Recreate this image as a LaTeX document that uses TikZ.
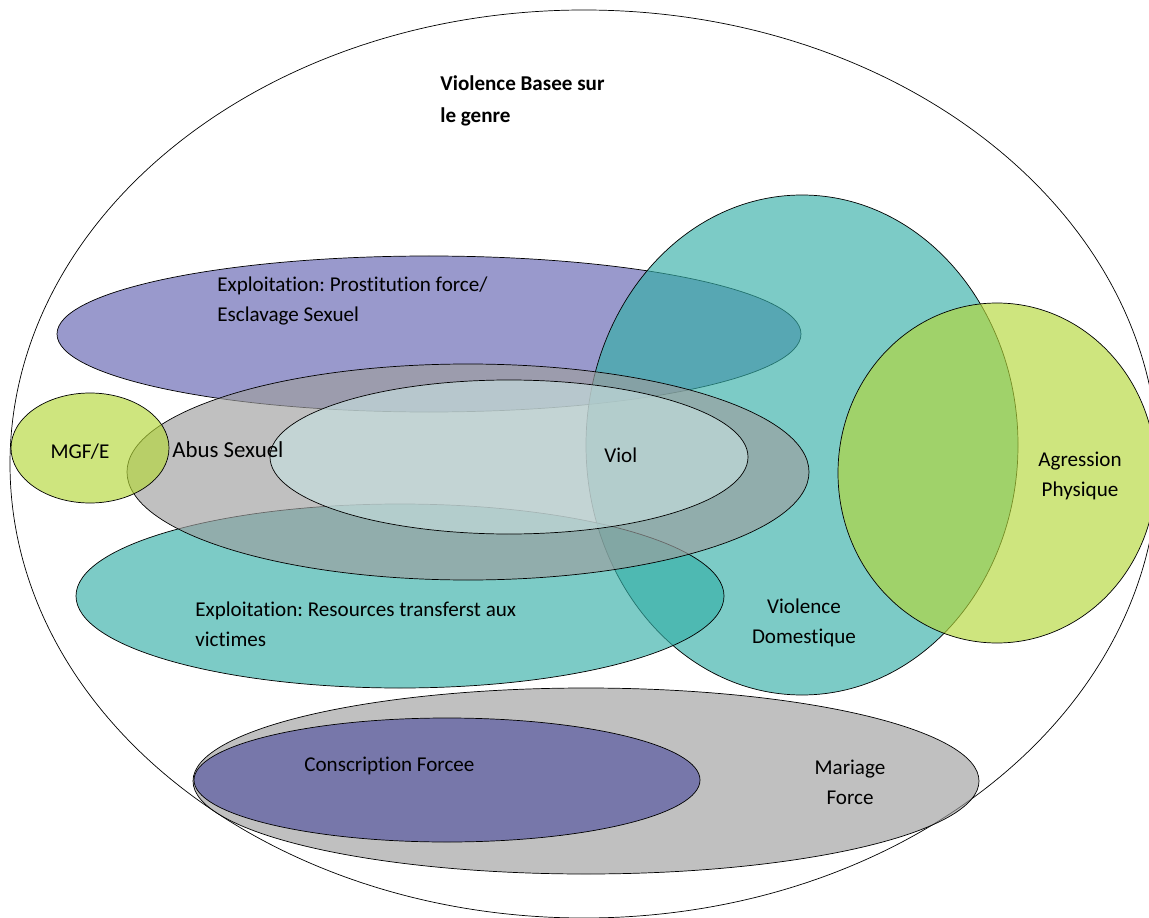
\documentclass[tikz,border=0pt]{standalone}
\usepackage{fontspec}
\setmainfont{Carlito}[Ligatures={NoCommon,NoContextual,NoRare},Contextuals={NoAlternate}]
\frenchspacing
\definecolor{lavande}{RGB}{98,98,177}
\definecolor{sarcelle}{RGB}{53,175,167}
\definecolor{citron}{RGB}{180,215,57}
\definecolor{gris}{RGB}{158,158,158}
\definecolor{glace}{RGB}{198,223,223}
\definecolor{indigo}{RGB}{81,81,158}

\begin{document}
\begin{tikzpicture}[x=0.2mm,y=-0.2mm,
    zone/.style={draw=black,fill opacity=0.65},
    lbl/.style={inner sep=0pt,align=left,font=\fontsize{12}{17}\selectfont},
    lblc/.style={inner sep=0pt,align=center,font=\fontsize{12}{17}\selectfont}]
    \useasboundingbox (0,0) rectangle (1149,918);

    \draw(584,464) ellipse (574 and 454);

    \filldraw[zone,fill=lavande](429,334) ellipse (372 and 78);
    \filldraw[zone,fill=sarcelle](802,445) ellipse (216 and 250);
    \filldraw[zone,fill=citron](997,473) ellipse (159 and 170);
    \filldraw[zone,fill=sarcelle](400,596) ellipse (324 and 92);
    \filldraw[zone,fill=gris](468,472) ellipse (341 and 108);
    \filldraw[zone,fill=glace](509,457) ellipse (239 and 77);
    \filldraw[zone,fill=citron](90,448) ellipse (79 and 55);
    \filldraw[zone,fill=gris](586,781) ellipse (393 and 93);
    \filldraw[zone,fill=indigo](447,780) ellipse (253 and 62);

    \node[lbl,anchor=west,font=\bfseries\fontsize{12}{18.2}\selectfont](vbg) at (440,101) {Violence Basee sur\\le genre};
    \node[lbl,anchor=west](prost) at (217,301) {Exploitation: Prostitution force/\\Esclavage Sexuel};
    \node[lblc](mgf) at (80,452) {MGF/E};
    \node[lbl,anchor=west,font=\fontsize{13}{17}\selectfont](abus) at (172,450) {Abus Sexuel};
    \node[lbl,anchor=west](viol) at (604,455) {Viol};
    \node[lblc](agr) at (1080,476) {Agression\\Physique};
    \node[lblc](vdom) at (804,623) {Violence\\Domestique};
    \node[lbl,anchor=west](resrc) at (195,624) {Exploitation: Resources transferst aux\\victimes};
    \node[lbl,anchor=west](consc) at (304,766) {Conscription Forcee};
    \node[lblc](mariage) at (850,782) {Mariage\\Force};
\end{tikzpicture}
\end{document}
